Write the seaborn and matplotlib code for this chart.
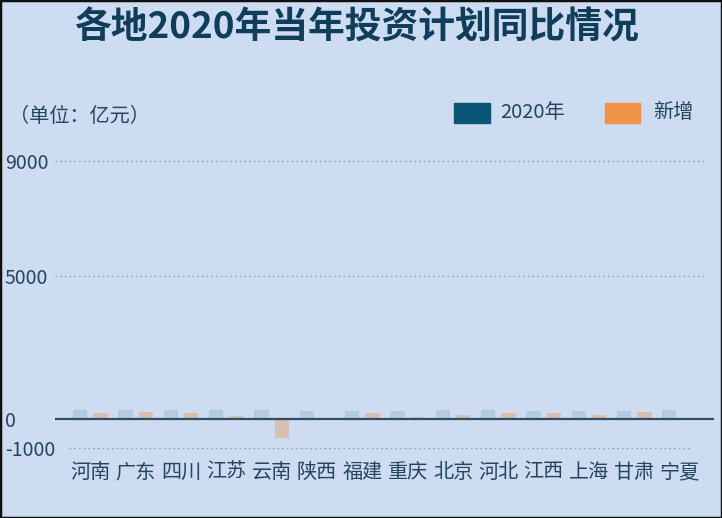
import matplotlib
matplotlib.use("Agg")
import matplotlib.pyplot as plt
import seaborn as sns
import pandas as pd
from matplotlib.patches import Rectangle

provinces = ["河南", "广东", "四川", "江苏", "云南", "陕西", "福建",
             "重庆", "北京", "河北", "江西", "上海", "甘肃", "宁夏"]
invest_2020 = [310, 310, 310, 310, 310, 300, 300, 300, 310, 310, 300, 300, 300, 310]
new_added = [210, 250, 200, 100, -650, 0, 220, 70, 150, 220, 220, 150, 250, 0]
series_names = ["2020年", "新增"]
y_ticks = [-1000, 0, 5000, 9000]
y_tick_labels = ["-1000", "0", "5000", "9000"]

title = "各地2020年当年投资计划同比情况"
unit_text = "（单位：亿元）"

# ---- style ----
bg = "#cddcf0"
blue = "#0b5674"
orange = "#f0924a"
text_col = "#25455f"
title_col = "#0f3d5a"
grid_col = "#8ea3ba"

sns.set_theme(style="white")
plt.rcParams["font.family"] = ["Noto Sans CJK SC", "DejaVu Sans"]

W, H = 722, 518
fig = plt.figure(figsize=(W / 100, H / 100), dpi=100, facecolor=bg)
ax = fig.add_axes([55 / W, 1 - 455 / H, 659 / W, 305 / H])
ax.set_facecolor(bg)

df = pd.DataFrame({
    "省份": provinces * 2,
    "系列": [series_names[0]] * len(provinces) + [series_names[1]] * len(provinces),
    "值": invest_2020 + new_added,
})

sns.barplot(data=df, x="省份", y="值", hue="系列", hue_order=series_names,
            palette=[blue, orange], width=0.9, gap=0.3, saturation=1,
            legend=False, errorbar=None, ax=ax)

# faded bars (animation frame look)
for cont, a in zip(ax.containers, [0.12, 0.38]):
    for bar in cont:
        bar.set_alpha(a)
        bar.set_linewidth(0)

ax.set_xlim(-0.78, 13.76)
ax.set_ylim(-1250, 9380)

for s in ax.spines.values():
    s.set_visible(False)

ax.set_xlabel("")
ax.set_ylabel("")
ax.set_yticks(y_ticks)
ax.set_yticklabels(y_tick_labels)
ax.tick_params(axis="y", length=0, pad=36, labelsize=14, labelcolor=text_col)
for lab in ax.get_yticklabels():
    lab.set_ha("left")
ax.tick_params(axis="x", length=0, pad=5, labelsize=14.5, labelcolor=text_col)

# gridlines
dots = (0, (1.2, 2.2))
ax.axhline(9000, xmin=0.0, xmax=0.986, color=grid_col, lw=1, ls=dots, zorder=0)
ax.axhline(5000, xmin=0.0, xmax=0.986, color=grid_col, lw=1, ls=dots, zorder=0)
ax.axhline(-1000, xmin=0.021, xmax=0.965, color=grid_col, lw=1, ls=dots, zorder=0)
ax.axhline(0, color="#2f4d66", lw=1.6, zorder=3)

# title & unit
fig.text(356 / W, 1 - 28 / H, title, ha="center", va="center",
         fontsize=26.5, fontweight="bold", color=title_col)
fig.text(9 / W, 1 - 116 / H, unit_text, ha="left", va="center",
         fontsize=14.5, color=text_col)

# legend
fig.add_artist(Rectangle((454 / W, 1 - 123 / H), 36 / W, 20 / H,
                         transform=fig.transFigure, color=blue))
fig.text(500 / W, 1 - 113 / H, series_names[0], ha="left", va="center",
         fontsize=14.5, color=text_col)
fig.add_artist(Rectangle((605 / W, 1 - 123 / H), 35 / W, 20 / H,
                         transform=fig.transFigure, color=orange))
fig.text(653 / W, 1 - 113 / H, series_names[1], ha="left", va="center",
         fontsize=14.5, color=text_col)

# outer frame
fig.add_artist(Rectangle((0, 0), 1, 1, transform=fig.transFigure,
                         fill=False, edgecolor="#111111", lw=2.5))

fig.savefig("out.png", dpi=100, facecolor=bg)
